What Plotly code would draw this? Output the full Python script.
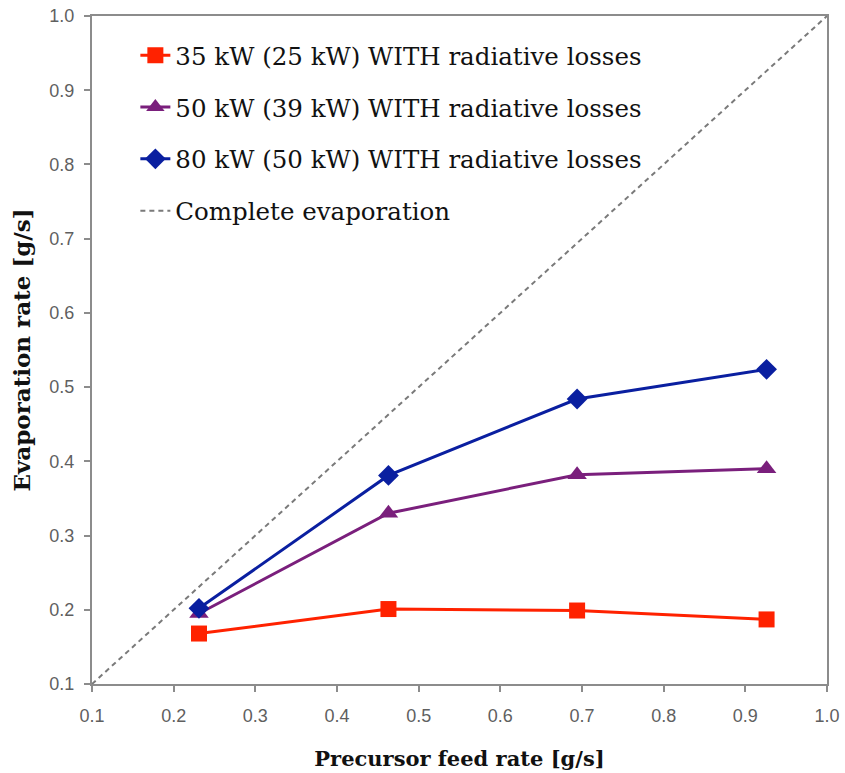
import plotly.graph_objects as go

feed = [0.231, 0.463, 0.694, 0.926]
red_vals = [0.168, 0.201, 0.199, 0.187]
purple_vals = [0.195, 0.330, 0.382, 0.390]
blue_vals = [0.202, 0.381, 0.484, 0.524]
diag = [0.1, 1.0]

names = ["35 kW (25 kW) WITH radiative losses",
         "50 kW (39 kW) WITH radiative losses",
         "80 kW (50 kW) WITH radiative losses",
         "Complete evaporation"]
tick_vals = [0.1, 0.2, 0.3, 0.4, 0.5, 0.6, 0.7, 0.8, 0.9, 1.0]
tick_text = ["0.1", "0.2", "0.3", "0.4", "0.5", "0.6", "0.7", "0.8", "0.9", "1.0"]

fig = go.Figure()
fig.add_trace(go.Scatter(x=feed, y=red_vals, name=names[0], mode="lines+markers",
                         legendgroup="a",
                         line=dict(color="#FF2200", width=3),
                         marker=dict(symbol="square", size=16, color="#FF2200")))
fig.add_trace(go.Scatter(x=feed, y=purple_vals, name=names[1], mode="lines+markers",
                         legendgroup="b",
                         line=dict(color="#7A1F7C", width=3),
                         marker=dict(symbol="triangle-up", size=17, color="#7A1F7C")))
fig.add_trace(go.Scatter(x=feed, y=blue_vals, name=names[2], mode="lines+markers",
                         legendgroup="c",
                         line=dict(color="#0A1FA0", width=3),
                         marker=dict(symbol="diamond", size=16, color="#0A1FA0")))
fig.add_trace(go.Scatter(x=diag, y=diag, name=names[3], mode="lines",
                         legendgroup="d",
                         line=dict(color="#7A7A7A", width=2, dash="5px,4px")))

axis_common = dict(
    showline=True, linecolor="#8C8C8C", linewidth=2, mirror=True,
    ticks="outside", ticklen=6, tickcolor="#8C8C8C", tickwidth=2,
    showgrid=False, zeroline=False, automargin=False,
    tickfont=dict(family="Liberation Sans", size=18, color="#5F5F5F"),
    tickvals=tick_vals, ticktext=tick_text,
)

fig.update_layout(
    width=845, height=773,
    margin=dict(l=92, r=18, t=16, b=89),
    paper_bgcolor="white", plot_bgcolor="white",
    xaxis=dict(range=[0.1, 1.0], **axis_common, ticklabelstandoff=8,
               title=dict(text="<b>Precursor feed rate [g/s]</b>", standoff=27,
                          font=dict(family="DejaVu Serif", size=21, color="#111111"))),
    yaxis=dict(range=[0.1, 1.0], **axis_common, ticklabelstandoff=6,
               title=dict(text="<b>Evaporation rate [g/s]</b>", standoff=12,
                          font=dict(family="DejaVu Serif", size=23, color="#111111"))),
    legend=dict(x=0.059, y=0.975, xanchor="left", yanchor="top",
                bgcolor="rgba(0,0,0,0)", tracegroupgap=17,
                font=dict(family="DejaVu Serif", size=24.5, color="#111111")),
    showlegend=True,
)

fig.write_html("out.html")
